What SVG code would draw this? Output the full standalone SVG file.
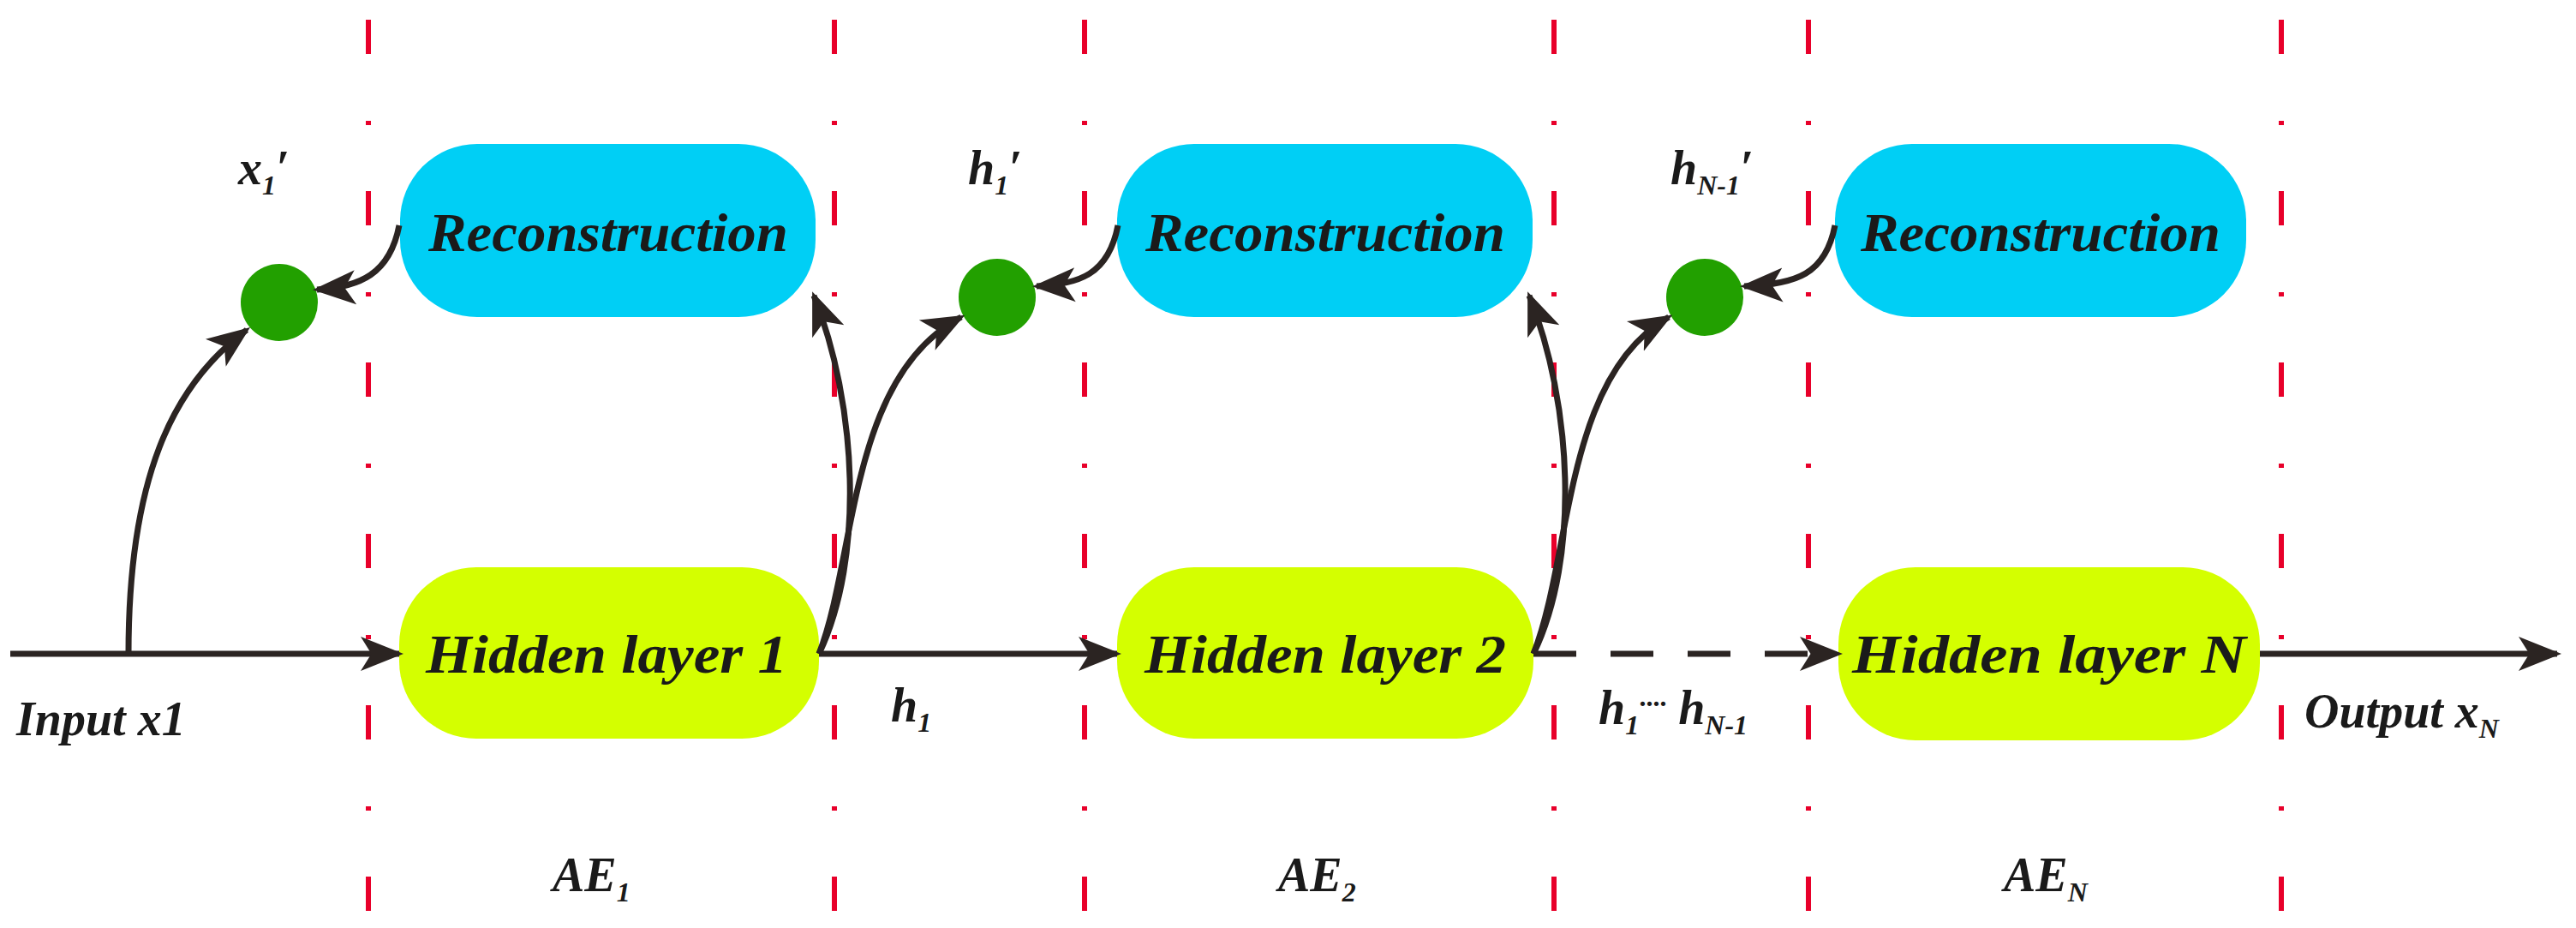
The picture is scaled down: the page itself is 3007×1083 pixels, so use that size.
<svg xmlns="http://www.w3.org/2000/svg" width="3007" height="1083" viewBox="0 0 3007 1083">
<defs>
<marker id="ah" markerWidth="8" markerHeight="8" refX="6" refY="4" orient="auto" markerUnits="userSpaceOnUse" viewBox="0 0 8 8"><path d="M0,0 L8,4 L0,8 Z" fill="#2b2422"/></marker>
<marker id="a" viewBox="0 0 10 10" refX="9" refY="5" markerWidth="50" markerHeight="50" markerUnits="userSpaceOnUse" orient="auto"><path d="M0,1 L10,5 L0,9 L2.5,5 Z" fill="#2b2422"/></marker>
</defs>
<style>
.sep{stroke:#e8002a;stroke-width:6;stroke-dasharray:40 78 5 77;fill:none}
.rec{fill:#00cff5}
.hid{fill:#d4ff00}
.dot{fill:#22a000}
.ln{stroke:#2b2422;stroke-width:7;fill:none;marker-end:url(#a)}
.t{font-family:"Liberation Serif",serif;font-style:italic;font-weight:bold;fill:#1a1a1a}
.box{font-size:64px;text-anchor:middle}
.lab{font-size:56px}
.sub{font-size:32px}
</style>
<rect width="3007" height="1083" fill="#fff"/>
<g id="separators">
<line class="sep" x1="430" y1="23" x2="430" y2="1065"/>
<line class="sep" x1="974" y1="23" x2="974" y2="1065"/>
<line class="sep" x1="1266" y1="23" x2="1266" y2="1065"/>
<line class="sep" x1="1814" y1="23" x2="1814" y2="1065"/>
<line class="sep" x1="2111" y1="23" x2="2111" y2="1065"/>
<line class="sep" x1="2663" y1="23" x2="2663" y2="1065"/>
</g>
<g id="rec1"><rect class="rec" x="467" y="168" width="485" height="202" rx="90"/><text class="t box" x="710" y="293" textLength="420" lengthAdjust="spacingAndGlyphs">Reconstruction</text></g>
<g id="rec2"><rect class="rec" x="1304" y="168" width="485" height="202" rx="90"/><text class="t box" x="1547" y="293" textLength="420" lengthAdjust="spacingAndGlyphs">Reconstruction</text></g>
<g id="rec3"><rect class="rec" x="2142" y="168" width="480" height="202" rx="90"/><text class="t box" x="2382" y="293" textLength="420" lengthAdjust="spacingAndGlyphs">Reconstruction</text></g>
<g id="hid1"><rect class="hid" x="466" y="662" width="490" height="200" rx="90"/><text class="t box" x="708" y="785" textLength="422" lengthAdjust="spacingAndGlyphs">Hidden  layer 1</text></g>
<g id="hid2"><rect class="hid" x="1304" y="662" width="486" height="200" rx="90"/><text class="t box" x="1547" y="785" textLength="422" lengthAdjust="spacingAndGlyphs">Hidden  layer 2</text></g>
<g id="hidN"><rect class="hid" x="2146" y="662" width="492" height="202" rx="90"/><text class="t box" x="2392" y="785" textLength="460" lengthAdjust="spacingAndGlyphs">Hidden  layer N</text></g>
<g id="c1"><circle class="dot" cx="326" cy="353" r="45"/></g>
<g id="c2"><circle class="dot" cx="1164" cy="347" r="45"/></g>
<g id="c3"><circle class="dot" cx="1990" cy="347" r="45"/></g>
<g id="connectors">
<line class="ln" x1="12" y1="763" x2="466" y2="763"/>
<line class="ln" x1="956" y1="763" x2="1304" y2="763"/>
<line class="ln" x1="1790" y1="763" x2="2146" y2="763" stroke-dasharray="50 40"/>
<line class="ln" x1="2638" y1="763" x2="2985" y2="763"/>
<path class="ln" d="M150,763 C150,560 200,450 288,385"/>
<path class="ln" d="M956,763 C1010,650 1000,470 950,345"/>
<path class="ln" d="M956,763 C1000,650 990,440 1122,370"/>
<path class="ln" d="M1790,763 C1845,650 1835,470 1785,345"/>
<path class="ln" d="M1790,763 C1835,650 1825,440 1948,370"/>
<path class="ln" d="M466,263 C455,320 420,335 370,338"/>
<path class="ln" d="M1305,263 C1294,320 1260,332 1210,334"/>
<path class="ln" d="M2142,263 C2131,320 2097,332 2036,334"/>
</g>
<g id="labels">
<text class="t lab" x="278" y="215">x<tspan class="sub" dy="12">1</tspan><tspan dy="-12">′</tspan></text>
<text class="t lab" x="1130" y="215">h<tspan class="sub" dy="12">1</tspan><tspan dy="-12">′</tspan></text>
<text class="t lab" x="1950" y="215">h<tspan class="sub" dy="12">N-1</tspan><tspan dy="-12">′</tspan></text>
<text class="t lab" x="19" y="858">Input x1</text>
<text class="t lab" x="1040" y="842">h<tspan class="sub" dy="12">1</tspan></text>
<text class="t lab" x="1866" y="845">h<tspan class="sub" dy="12">1</tspan><tspan class="sub" dy="-25">····</tspan><tspan dy="13"> h</tspan><tspan class="sub" dy="12">N-1</tspan></text>
<text class="t lab" x="2690" y="849">Output x<tspan class="sub" dy="12">N</tspan></text>
<text class="t lab" x="645" y="1040">AE<tspan class="sub" dy="12">1</tspan></text>
<text class="t lab" x="1492" y="1040">AE<tspan class="sub" dy="12">2</tspan></text>
<text class="t lab" x="2339" y="1040">AE<tspan class="sub" dy="12">N</tspan></text>
</g>
</svg>
